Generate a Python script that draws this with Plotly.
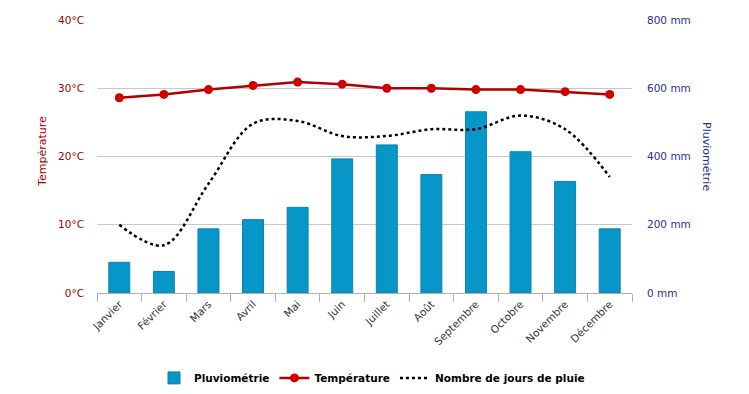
import plotly.graph_objects as go

months = ["Janvier", "Février", "Mars", "Avril", "Mai", "Juin", "Juillet",
          "Août", "Septembre", "Octobre", "Novembre", "Décembre"]
precip_mm = [90, 63, 188, 215, 251, 393, 434, 347, 531, 414, 327, 188]
temperature_c = [28.6, 29.1, 29.8, 30.4, 30.9, 30.6, 30.0, 30.0, 29.8, 29.8, 29.5, 29.1]
rain_days = [10, 7, 16, 24.8, 25.2, 23, 23, 24, 24, 26, 24, 17]

FONT = "DejaVu Sans"

fig = go.Figure()
fig.add_trace(go.Bar(
    x=months, y=precip_mm, name="Pluviométrie", yaxis="y2",
    width=0.47,
    marker=dict(color="#0796c8", line=dict(color="#0a83b0", width=1)),
))
fig.add_trace(go.Scatter(
    x=months, y=temperature_c, name="Température", yaxis="y",
    mode="lines+markers",
    line=dict(color="#b00000", width=2.5),
    marker=dict(color="#d00000", size=9),
))
fig.add_trace(go.Scatter(
    x=months, y=rain_days, name="Nombre de jours de pluie", yaxis="y3",
    mode="lines",
    line=dict(color="#000000", width=2.5, dash="dot", shape="spline", smoothing=1),
))

fig.update_layout(
    width=741, height=386,
    margin=dict(l=89, r=117, t=12, b=101, autoexpand=False),
    paper_bgcolor="white", plot_bgcolor="white",
    font=dict(family=FONT, size=10.5, color="#333333"),
    showlegend=True,
    xaxis=dict(
        type="category",
        range=[-0.5, 11.5],
        automargin=False,
        tickangle=-45,
        tickson="boundaries",
        ticks="outside", ticklen=8, tickcolor="#b0b0b0",
        showline=True, linecolor="#b0b0b0", linewidth=1,
        showgrid=False,
        tickfont=dict(family=FONT, size=10.5, color="#333333"),
    ),
    yaxis=dict(
        range=[0, 40], dtick=10, ticksuffix="°C",
        automargin=False,
        showgrid=True, gridcolor="#c8c8c8", gridwidth=1,
        zeroline=False, showline=False,
        tickfont=dict(family=FONT, size=10.5, color="#a00000"),
        ticklabelstandoff=12,
    ),
    yaxis2=dict(
        range=[0, 800], dtick=200, ticksuffix=" mm",
        automargin=False,
        overlaying="y", side="right",
        showgrid=False, zeroline=False, showline=False,
        tickfont=dict(family=FONT, size=10.5, color="#1f2f96"),
        ticklabelstandoff=14,
    ),
    yaxis3=dict(
        range=[0, 40], overlaying="y", visible=False,
    ),
    legend=dict(
        orientation="h", x=0.514, xanchor="center", y=-0.311, yanchor="middle",
        font=dict(family=FONT, size=10.5, color="#000000", weight="bold"),
        bgcolor="rgba(0,0,0,0)",
    ),
    annotations=[
        dict(text="Température", xref="paper", yref="paper", x=-0.119, y=0.52,
             textangle=-90, showarrow=False,
             font=dict(family=FONT, size=11, color="#a00000")),
        dict(text="Pluviométrie", xref="paper", yref="paper", x=1.155, y=0.5,
             textangle=90, showarrow=False,
             font=dict(family=FONT, size=11, color="#1f2f96")),
    ],
)

fig.write_html("out.html")
